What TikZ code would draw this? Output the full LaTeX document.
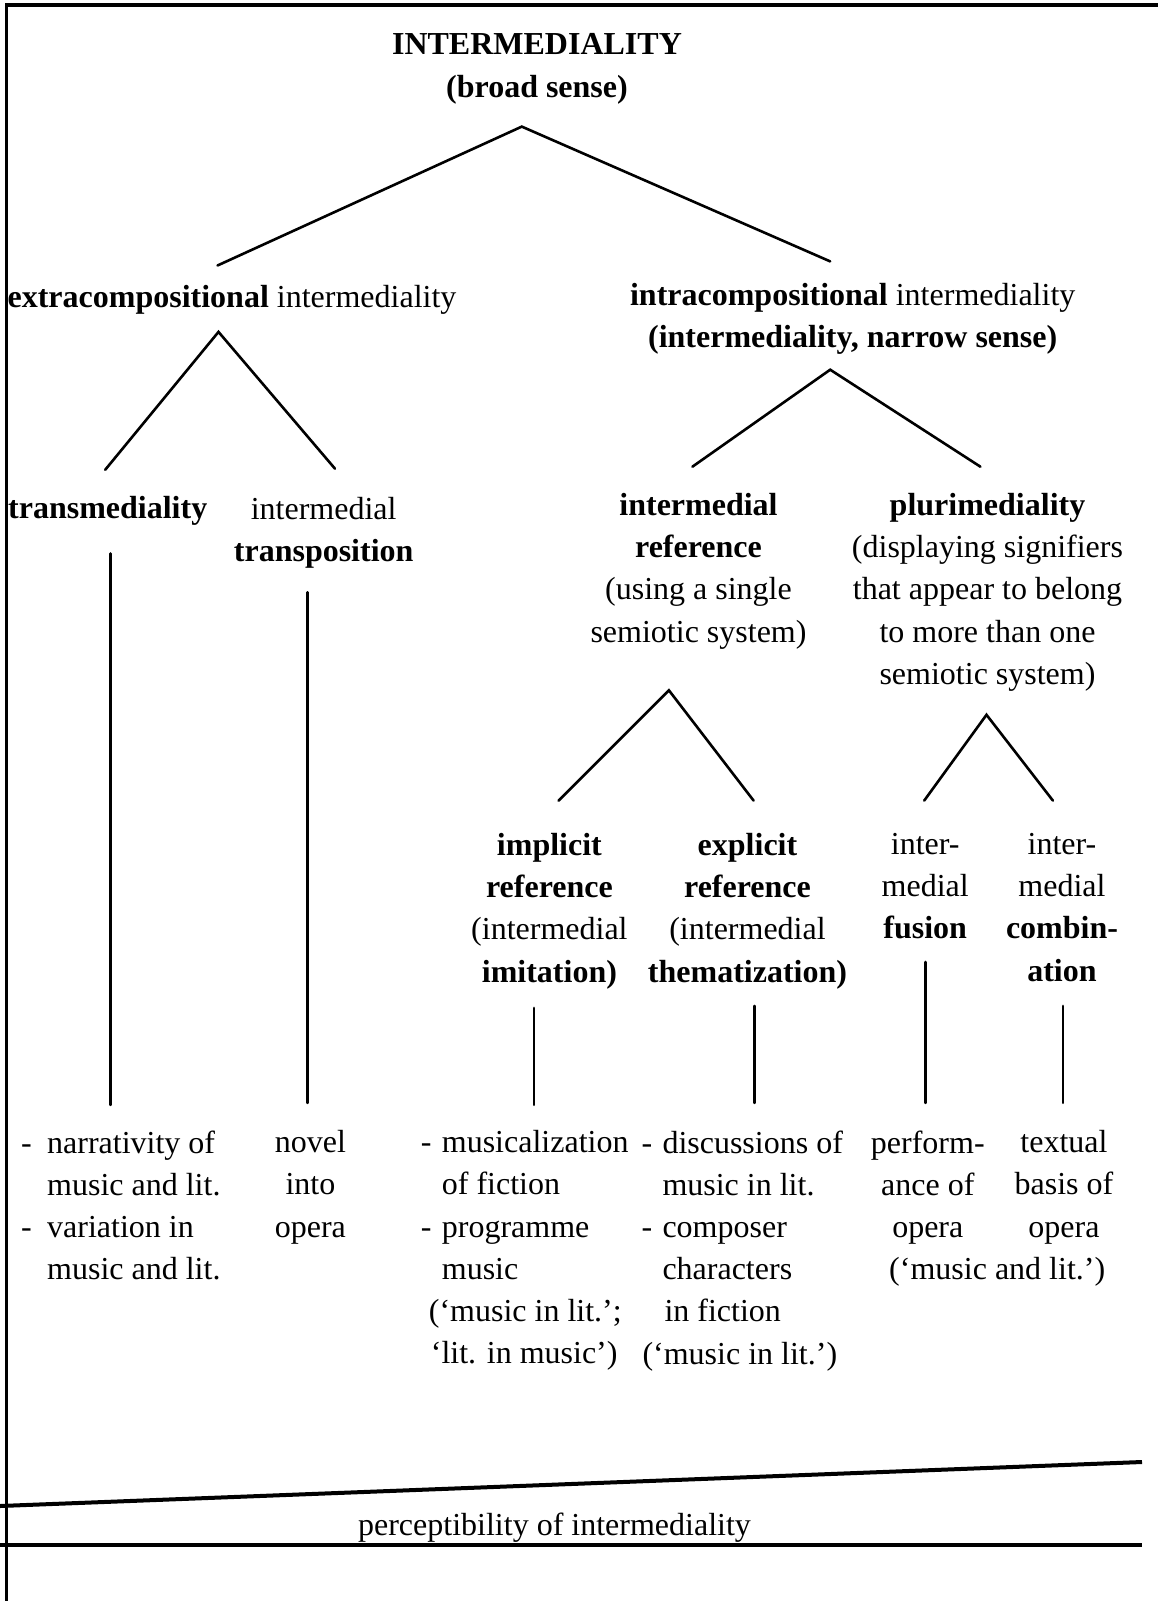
\documentclass[tikz,border=0pt]{standalone}
\usepackage{fontspec}
\setmainfont{Liberation Serif}
% hanging dash for list items, and the matching indent for their continuation lines
\newcommand\hyA{\makebox[26pt][l]{-}}
\newcommand\inA{\hspace*{26pt}}
\newcommand\hyB{\makebox[21pt][l]{-}}
\newcommand\inB{\hspace*{21pt}}
\begin{document}
\begin{tikzpicture}[x=1pt,y=-1pt,
  lbl/.style={inner sep=0pt, anchor=north, yshift=29.54pt, align=center,
    font=\fontsize{32}{42.2}\selectfont, execute at begin node=\strut},
  lblL/.style={lbl, anchor=north west, align=left},
  multi/.style={yshift=-8.2pt},
  branch/.style={line width=2.6pt, line cap=round},
  rule/.style={line width=4pt},
  frame/.style={line width=3.5pt},
]
\useasboundingbox (0,0) rectangle (1158,1601);

% page frame (top and left edges)
\draw[frame] (6.5,1601) -- (6.5,5) -- (1158,5);

% ---- labels (positioned at the baseline of their first line) ----
\node[lbl,multi] (root) at (537,55) {\textbf{INTERMEDIALITY}\\\textbf{(broad sense)}};

\node[lbl] (extra) at (232,307) {\textbf{extracompositional} intermediality};
\node[lbl,multi] (intra) at (852.7,304) {\textbf{intracompositional} intermediality\\\textbf{(intermediality, narrow sense)}};

\node[lbl] (transmed) at (107.7,518.6) {\textbf{transmediality}};
\node[lbl,multi] (transpos) at (323.7,518.6) {intermedial\\\textbf{transposition}};
\node[lbl,multi] (iref) at (698.5,514.5) {\textbf{intermedial}\\\textbf{reference}\\(using a single\\semiotic system)};
\node[lbl,multi] (pluri) at (987.5,514.5) {\textbf{plurimediality}\\(displaying signifiers\\that appear to belong\\to more than one\\semiotic system)};

\node[lbl,multi] (implicit) at (549.4,854.5) {\textbf{implicit}\\\textbf{reference}\\(intermedial\\\textbf{imitation)}};
\node[lbl,multi] (explicit) at (747.5,854.5) {\textbf{explicit}\\\textbf{reference}\\(intermedial\\\textbf{thematization)}};
\node[lbl,multi] (fusion) at (925.2,854.5) {inter-\\medial\\\textbf{fusion}};
\node[lbl,multi] (combin) at (1062,854.5) {inter-\\medial\\\textbf{combin-}\\\textbf{ation}};

\node[lblL,multi] (exA) at (21,1151.7) {\hyA narrativity of\\\inA music and lit.\\\hyA variation in\\\inA music and lit.};
\node[lbl,multi] (exB) at (310.4,1151.7) {novel\\into\\opera};
\node[lblL,multi] (exC) at (420.7,1151.7) {\hyB musicalization\\\inB of fiction\\\hyB programme\\\inB music\\\hspace*{8pt}(‘music in lit.’;\\\hspace*{10pt}‘lit. in music’)};
\node[lblL,multi] (exD) at (641.3,1151.7) {\hyB discussions of\\\inB music in lit.\\\hyB composer\\\inB characters\\\hspace*{23pt}in fiction\\\hspace*{1pt}(‘music in lit.’)};
\node[lbl,multi] (exE) at (927.8,1151.7) {perform-\\ance of\\opera};
\node[lbl,multi] (exF) at (1064,1151.7) {textual\\basis of\\opera};
\node[lbl] (exG) at (997.2,1279.4) {(‘music and lit.’)};

\node[lbl] (percept) at (554.5,1535) {perceptibility of intermediality};

% ---- branching points and line ends ----
\coordinate (rootApex) at (521.8,126.6);
\coordinate (rootL) at (217.5,265.5);
\coordinate (rootR) at (830.2,261.4);
\coordinate (extraApex) at (218.5,331.9);
\coordinate (extraL) at (105.2,469.8);
\coordinate (extraR) at (335,468.7);
\coordinate (intraApex) at (830.2,369.7);
\coordinate (intraL) at (692.4,466.7);
\coordinate (intraR) at (980.4,466.7);
\coordinate (irefApex) at (668.9,690.3);
\coordinate (irefL) at (558.6,800.6);
\coordinate (irefR) at (753.6,800.6);
\coordinate (pluriApex) at (986.5,714.8);
\coordinate (pluriL) at (924.2,800.6);
\coordinate (pluriR) at (1052.9,800.6);

% tree branches
\draw[branch] (rootL) -- (rootApex) -- (rootR);
\draw[branch] (extraL) -- (extraApex) -- (extraR);
\draw[branch] (intraL) -- (intraApex) -- (intraR);
\draw[branch] (irefL) -- (irefApex) -- (irefR);
\draw[branch] (pluriL) -- (pluriApex) -- (pluriR);

% stems down to the examples
\coordinate (s1a) at (110.3,553.5);  \coordinate (s1b) at (110.3,1104.9);
\coordinate (s2a) at (307.4,592.3);  \coordinate (s2b) at (307.4,1102.9);
\coordinate (s3a) at (534.1,1007.9); \coordinate (s3b) at (534.1,1104.9);
\coordinate (s4a) at (754.7,1005.9); \coordinate (s4b) at (754.7,1102.9);
\coordinate (s5a) at (925.2,962);    \coordinate (s5b) at (925.2,1102.9);
\coordinate (s6a) at (1063.1,1005.9);\coordinate (s6b) at (1063.1,1102.9);
\foreach \s in {1,...,6} \draw[branch] (s\s a) -- (s\s b);

% perceptibility scale
\coordinate (upL) at (0,1506);   \coordinate (upR) at (1142,1462);
\coordinate (loL) at (0,1545);   \coordinate (loR) at (1142,1545);
\draw[rule] (upL) -- (upR);
\draw[rule] (loL) -- (loR);
\end{tikzpicture}
\end{document}
